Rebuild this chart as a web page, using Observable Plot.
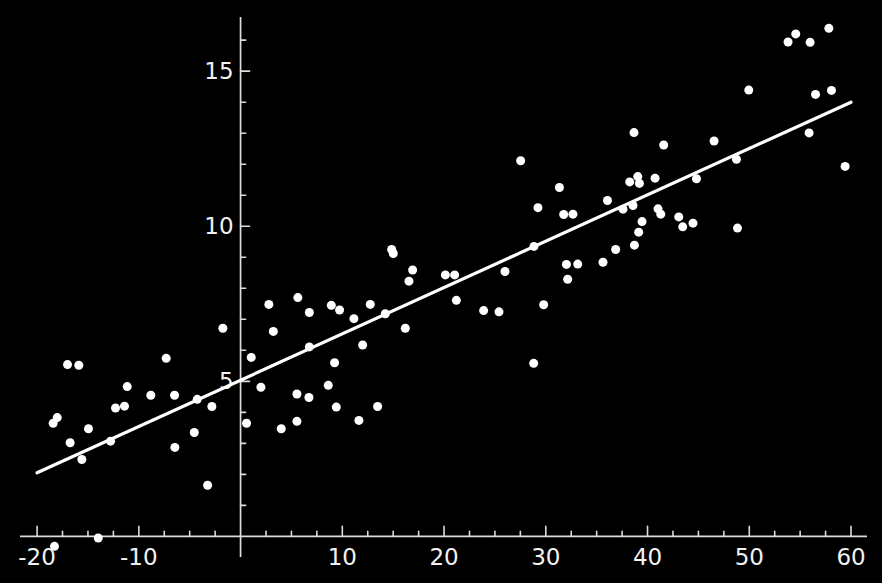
<!DOCTYPE html>
<html>
<head>
<meta charset="utf-8">
<script src="https://cdn.jsdelivr.net/npm/d3@7"></script>
<script src="https://cdn.jsdelivr.net/npm/@observablehq/plot@0.6"></script>
<style>
  html, body { margin: 0; padding: 0; background: #000; }
  #chart svg { display: block; background: #000; }
</style>
</head>
<body>
<div id="chart"></div>
<script>
// Scatter points (x, y)
const pointsX = [-1.74,-17.01,-15.90,-7.31,-11.14,-8.82,-6.49,-4.26,-12.29,-11.41,-2.82,-18.02,-18.42,-14.95,-16.75,-12.78,-4.55,-6.46,-15.60,-3.24,-13.99,-18.29,
  14.85,15.01,16.91,16.55,2.78,5.63,8.92,9.73,6.76,11.14,12.75,14.23,3.22,16.19,6.76,12.00,1.05,9.24,2.00,8.62,5.54,6.72,9.41,13.47,0.59,5.54,11.63,4.00,
  27.53,31.34,29.23,31.76,32.67,20.13,21.04,28.84,32.03,33.14,32.15,25.99,21.21,29.79,23.89,25.40,28.81,
  38.67,41.59,46.54,48.74,39.04,38.25,39.20,40.74,44.81,36.06,37.59,38.57,41.03,41.30,43.07,43.46,44.47,39.46,39.13,48.84,38.71,36.87,35.62,
  57.82,54.57,53.81,55.98,49.95,56.51,58.08,55.88,59.42];
const pointsY = [6.71,5.54,5.52,5.74,4.83,4.55,4.55,4.42,4.14,4.20,4.19,3.83,3.65,3.47,3.02,3.07,3.35,2.87,2.48,1.65,-0.05,-0.32,
  9.25,9.12,8.59,8.23,7.48,7.70,7.45,7.30,7.22,7.02,7.48,7.18,6.61,6.71,6.11,6.17,5.77,5.60,4.81,4.87,4.59,4.48,4.17,4.19,3.65,3.71,3.74,3.47,
  12.11,11.25,10.60,10.38,10.39,8.43,8.43,9.35,8.77,8.78,8.29,8.54,7.61,7.47,7.28,7.24,5.58,
  13.02,12.62,12.75,12.16,11.60,11.43,11.38,11.55,11.53,10.83,10.55,10.67,10.56,10.39,10.30,9.98,10.10,10.15,9.81,9.94,9.39,9.25,8.84,
  16.38,16.20,15.94,15.93,14.39,14.25,14.38,13.01,11.93];

// Fitted line end points
const lineX = [-20, 60];
const lineY = [2.05, 14.0];

// Axis extents and ticks
const xExtent = [-21.63, 61.62];
const yExtent = [-0.68, 16.73];
const xMajor = [-20, -10, 10, 20, 30, 40, 50, 60];
const xMinor = [-17.5, -15, -12.5, -7.5, -5, -2.5, 2.5, 5, 7.5, 12.5, 15, 17.5, 22.5, 25, 27.5, 32.5, 35, 37.5, 42.5, 45, 47.5, 52.5, 55, 57.5];
const yMajor = [5, 10, 15];
const yMinor = [1, 2, 3, 4, 6, 7, 8, 9, 11, 12, 13, 14, 16];
const xLabels = ["-20", "-10", "10", "20", "30", "40", "50", "60"];
const yLabels = ["5", "10", "15"];

const points = pointsX.map((x, i) => ({x, y: pointsY[i]}));
const line = lineX.map((x, i) => ({x, y: lineY[i]}));

const axisColor = "#dcdcdc";
const tickShape = {draw(context, l) { context.moveTo(0, 0); context.lineTo(0, -l); }};

const chart = Plot.plot({
  width: 882,
  height: 583,
  marginLeft: 20,
  marginRight: 15,
  marginTop: 17,
  marginBottom: 26,
  style: {background: "#000", fontFamily: "DejaVu Sans", fontSize: "23px"},
  x: {domain: xExtent, axis: null},
  y: {domain: yExtent, axis: null},
  marks: [
    Plot.ruleY([0], {x1: xExtent[0], x2: xExtent[1], stroke: axisColor, strokeWidth: 1.7}),
    Plot.ruleX([0], {y1: yExtent[0], y2: yExtent[1], stroke: axisColor, strokeWidth: 1.7}),
    Plot.vector(xMajor, {x: d => d, y: 0, length: 10, rotate: 0, anchor: "start", shape: tickShape, stroke: axisColor, strokeWidth: 1.6}),
    Plot.vector(xMinor, {x: d => d, y: 0, length: 5, rotate: 0, anchor: "start", shape: tickShape, stroke: axisColor, strokeWidth: 1.6}),
    Plot.vector(yMajor, {x: 0, y: d => d, length: 9, rotate: 90, anchor: "start", shape: tickShape, stroke: axisColor, strokeWidth: 1.6}),
    Plot.vector(yMinor, {x: 0, y: d => d, length: 5, rotate: 90, anchor: "start", shape: tickShape, stroke: axisColor, strokeWidth: 1.6}),
    Plot.text(xMajor, {x: d => d, y: 0, dy: 21, text: (d, i) => xLabels[i], fill: "#f2f2f2", fontSize: 23, textAnchor: "middle"}),
    Plot.text(yMajor, {x: 0, y: d => d, dx: -7, text: (d, i) => yLabels[i], fill: "#f2f2f2", fontSize: 23, textAnchor: "end"}),
    Plot.line(line, {x: "x", y: "y", stroke: "#fff", strokeWidth: 3.2}),
    Plot.dot(points, {x: "x", y: "y", r: 4.5, fill: "#fff", stroke: "none"})
  ]
});
document.getElementById("chart").appendChild(chart);
</script>
</body>
</html>
